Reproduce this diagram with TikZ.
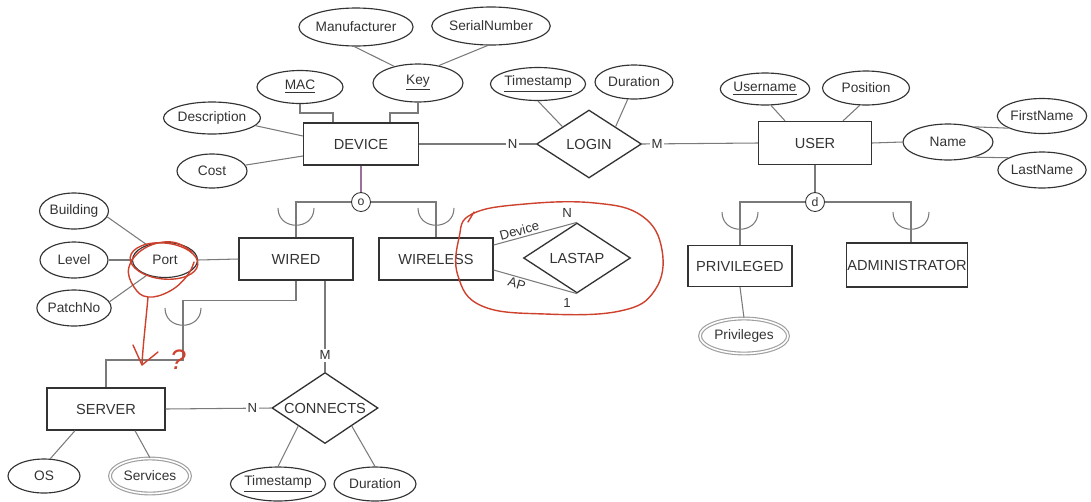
\documentclass[tikz,border=0pt]{standalone}
\usepackage{fontspec}
\setmainfont{Liberation Sans}
\usetikzlibrary{shapes.geometric,calc}
\definecolor{ink}{HTML}{333333}
\definecolor{conn}{HTML}{7a7a7a}
\definecolor{pen}{RGB}{205,65,45}
\definecolor{purp}{HTML}{9a6f9a}
\newcommand\ercup[2]{\draw[ln] (#1-18,#2) .. controls (#1-18,#2+23) and (#1+18,#2+23) .. (#1+18,#2);}
\begin{document}
\begin{tikzpicture}[x=0.02cm,y=-0.02cm,
 ent/.style={draw=ink, line width=0.75pt, rectangle, inner sep=0pt, font=\fontsize{8.3}{9}\selectfont, text=ink},
 rel/.style={draw=ink, line width=0.75pt, diamond, shape aspect=1.5, inner sep=0pt, font=\fontsize{8.3}{9}\selectfont, text=ink},
 attr/.style={draw=ink, line width=0.65pt, ellipse, inner sep=0pt, font=\fontsize{7.8}{9}\selectfont, text=ink},
 mattr/.style={attr, draw=gray!75, double=white, double distance=0.9pt, line width=0.65pt},
 dj/.style={draw=ink, circle, line width=0.5pt, minimum size=0.38cm, inner sep=0pt, font=\fontsize{7}{8}\selectfont, text=ink, fill=white},
 ln/.style={draw=conn, line width=0.6pt},
 card/.style={fill=white, inner sep=1pt, font=\fontsize{7.5}{9}\selectfont, text=ink},
 lab/.style={inner sep=1pt, font=\fontsize{7.5}{9}\selectfont, text=ink},
 redpen/.style={draw=pen, line width=0.8pt, line cap=round, line join=round},
]
\useasboundingbox (0,0) rectangle (1091,501);

% entities
\node[ent, minimum width=2.3cm, minimum height=0.84cm] (DEVICE) at (361,144) {DEVICE};
\node[ent, minimum width=2.26cm, minimum height=0.86cm] (USER) at (815,143) {USER};
\node[ent, minimum width=2.28cm, minimum height=0.84cm] (WIRED) at (296,259) {WIRED};
\node[ent, minimum width=2.28cm, minimum height=0.84cm] (WIRELESS) at (436,259) {WIRELESS};
\node[ent, minimum width=2.08cm, minimum height=0.82cm] (PRIV) at (740,266) {PRIVILEGED};
\node[ent, minimum width=2.42cm, minimum height=0.88cm] (ADMIN) at (907,265) {ADMINISTRATOR};
\node[ent, minimum width=2.36cm, minimum height=0.84cm] (SERVER) at (106,409) {SERVER};

% relationships
\node[rel, minimum width=2.1cm, minimum height=1.36cm] (LOGIN) at (589,144) {LOGIN};
\node[rel, minimum width=2.14cm, minimum height=1.4cm] (LASTAP) at (577,258) {LASTAP};
\node[rel, minimum width=2.12cm, minimum height=1.42cm] (CONNECTS) at (325,408) {CONNECTS};

% attributes
\node[attr, minimum width=2.04cm, minimum height=0.76cm] (Manuf) at (356,27) {Manufacturer};
\node[attr, minimum width=2.04cm, minimum height=0.76cm] (Serial) at (491,26) {SerialNumber};
\node[attr, minimum width=1.72cm, minimum height=0.66cm] (MAC) at (300,87) {\underline{MAC}};
\node[attr, minimum width=1.8cm, minimum height=0.76cm] (Key) at (418,83) {\underline{Key}};
\node[attr, minimum width=1.76cm, minimum height=0.64cm] (Desc) at (212,118) {Description};
\node[attr, minimum width=1.4cm, minimum height=0.68cm] (Cost) at (212,171) {Cost};
\node[attr, minimum width=1.74cm, minimum height=0.66cm] (TsA) at (538,84) {\underline{Timestamp}};
\node[attr, minimum width=1.56cm, minimum height=0.68cm] (DurA) at (634,82) {Duration};
\node[attr, minimum width=1.72cm, minimum height=0.64cm] (Uname) at (765,89) {\underline{Username}};
\node[attr, minimum width=1.74cm, minimum height=0.68cm] (Pos) at (866,88) {Position};
\node[attr, minimum width=1.8cm, minimum height=0.72cm] (Name) at (948,142) {Name};
\node[attr, minimum width=1.6cm, minimum height=0.7cm] (First) at (1042,116) {FirstName};
\node[attr, minimum width=1.6cm, minimum height=0.72cm] (Last) at (1042,170) {LastName};
\node[attr, minimum width=1.36cm, minimum height=0.72cm] (Building) at (74,211) {Building};
\node[attr, minimum width=1.36cm, minimum height=0.72cm] (Level) at (74,260) {Level};
\node[attr, minimum width=1.36cm, minimum height=0.72cm] (Patch) at (74,308) {PatchNo};
\node[attr, minimum width=1.3cm, minimum height=0.7cm] (Port) at (165,260) {Port};
\node[mattr, minimum width=1.76cm, minimum height=0.7cm] (Privs) at (744,336) {Privileges};
\node[attr, minimum width=1.44cm, minimum height=0.68cm] (OS) at (44,476) {OS};
\node[mattr, minimum width=1.6cm, minimum height=0.7cm] (Services) at (150,476) {Services};
\node[attr, minimum width=1.76cm, minimum height=0.68cm] (TsB) at (278,484) {\underline{Timestamp}};
\node[attr, minimum width=1.64cm, minimum height=0.68cm] (DurB) at (375,484) {Duration};

% specialisation circles
\node[dj] (o) at (361,202) {o};
\node[dj] (d) at (815,202) {d};

% connectors: DEVICE attributes
\draw[ln] (Manuf.-95) -- (Key.145);
\draw[ln] (Serial.-100) -- (Key.40);
\draw[ln] (MAC.south) -- (MAC.south |- 0,113) -| ($(DEVICE.north)+(-28,0)$);
\draw[ln] (Key.south) -- (Key.south |- 0,113) -| ($(DEVICE.north)+(29,0)$);
\draw[ln] (Desc.-10) -- ($(DEVICE.west)+(0,-8)$);
\draw[ln] (Cost.10) -- ($(DEVICE.west)+(0,12)$);

% LOGIN
\draw[ln] (DEVICE.east) -- (LOGIN.west) node[card, pos=0.8] {N};
\draw[ln] (LOGIN.east) -- (USER.west) node[card, pos=0.13] {M};
\draw[ln] (TsA.-90) -- (LOGIN.north west);
\draw[ln] (DurA.-110) -- (LOGIN.north east);

% USER attributes
\draw[ln] (Uname.-70) -- ($(USER.north)+(-30,0)$);
\draw[ln] (Pos.-110) -- ($(USER.north)+(28,0)$);
\draw[ln] (USER.east) -- (Name.west);
\draw[ln] (Name.30) -- (First.200);
\draw[ln] (Name.-30) -- (Last.160);

% USER specialisation
\draw[ln] (USER.south) -- (d.north);
\draw[ln] (d.west) -| (PRIV.north);
\draw[ln] (d.east) -| ($(ADMIN.north)+(4,0)$);
\ercup{740}{212}
\ercup{911}{212}
\draw[ln] (PRIV.south) -- (Privs.north);

% DEVICE specialisation
\draw[draw=purp, line width=0.8pt] (DEVICE.south) -- (o.north);
\draw[ln] (o.west) -| (WIRED.north);
\draw[ln] (o.east) -| (WIRELESS.north);
\ercup{296}{208}
\ercup{436}{208}

% Port
\draw[ln] (Building.-10) -- (Port.140);
\draw[ln] (Level.east) -- (Port.west);
\draw[ln] (Patch.10) -- (Port.220);
\draw[ln] (Port.east) -- (WIRED.west);

% WIRED -> SERVER
\draw[ln] (WIRED.south) -- ++(0,20) -| (183,360) -| (SERVER.north);
\ercup{183}{308}

% LASTAP
\draw[ln] ($(WIRELESS.east)+(0,-14)$) -- (LASTAP.north)
  node[lab, pos=0.33, above, sloped] {Device}
  node[lab, pos=0.88, above=3pt] {N};
\draw[ln] ($(WIRELESS.east)+(0,11)$) -- (LASTAP.south)
  node[lab, pos=0.3, below, sloped] {AP}
  node[lab, pos=0.88, below=3pt] {1};

% CONNECTS
\draw[ln] (SERVER.east) -- (CONNECTS.west) node[card, pos=0.82] {N};
\draw[ln] (CONNECTS.north |- WIRED.south) -- (CONNECTS.north) node[card, pos=0.82] {M};
\draw[ln] (CONNECTS.south west) -- (TsB.north);
\draw[ln] (CONNECTS.south east) -- (DurB.north);
\draw[ln] ($(SERVER.south)+(-31,0)$) -- (OS.70);
\draw[ln] ($(SERVER.south)+(29,0)$) -- (Services.north);

% red annotations
\draw[redpen] plot[smooth cycle, tension=0.7] coordinates {(472,214) (525,204) (595,203) (642,216) (662,250) (655,290) (620,311) (545,314) (482,306) (458,276) (459,238)};
\draw[redpen] (468,222) -- (474,212);
\draw[redpen, rotate around={-6:(164,261)}] (164,261) ellipse [x radius=34, y radius=18];
\draw[redpen] plot[smooth, tension=0.7] coordinates {(192,252) (172,242) (145,248) (129,267) (134,287) (148,297) (170,291) (187,276) (194,262)};
\draw[redpen] (148,297) .. controls (146,320) and (143,345) .. (142,364);
\draw[redpen] (133,345) -- (142,365) -- (158,352);
\node[text=pen, font=\fontsize{16}{16}\selectfont\itshape] (q) at (178,360) {?};
\end{tikzpicture}
\end{document}
